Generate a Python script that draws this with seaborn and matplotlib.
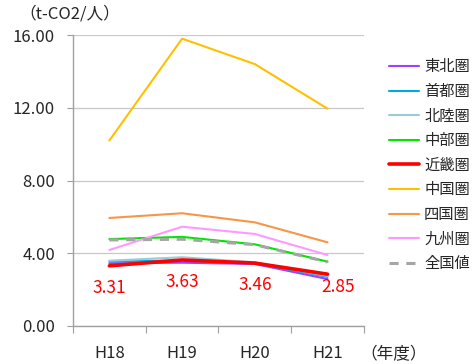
import matplotlib
matplotlib.use("Agg")
import matplotlib.pyplot as plt
import seaborn as sns
import pandas as pd
from matplotlib.lines import Line2D

# data
years = ["H18", "H19", "H20", "H21"]
regions = ["東北圏", "首都圏", "北陸圏", "中部圏", "近畿圏", "中国圏", "四国圏", "九州圏", "全国値"]
tohoku = [3.45, 3.48, 3.41, 2.58]
shuto = [3.55, 3.60, 3.45, 2.70]
hokuriku = [3.59, 3.78, 3.50, 2.75]
chubu = [4.78, 4.90, 4.49, 3.54]
kinki = [3.31, 3.63, 3.46, 2.85]
chugoku = [10.2, 15.8, 14.4, 11.95]
shikoku = [5.94, 6.20, 5.70, 4.60]
kyushu = [4.18, 5.46, 5.06, 3.90]
national = [4.73, 4.77, 4.47, 3.52]

colors = ["#A040FF", "#00A8E8", "#9CCAD8", "#00E600", "#FF0000",
          "#FFC000", "#F79646", "#FF99FF", "#A6A6A6"]

series = [tohoku, shuto, hokuriku, chubu, kinki, chugoku, shikoku, kyushu, national]
rows = []
for name, vals in zip(regions, series):
    for y, v in zip(years, vals):
        rows.append({"year": y, "region": name, "value": v})
df = pd.DataFrame(rows)
df["x"] = df["year"].map({y: i for i, y in enumerate(years)})

sns.set_style("white")
plt.rcParams['font.family'] = ['Noto Sans CJK JP', 'DejaVu Sans']


def line_style(name):
    lw = 2.6 if name == "近畿圏" else (2.2 if name == "全国値" else 1.5)
    ls = (0, (3, 2.5)) if name == "全国値" else "-"
    return lw, ls


fig = plt.figure(figsize=(4.72, 3.64), dpi=100)
ax = fig.add_axes([0.1547, 0.1044, 0.771 - 0.1547, 0.9038 - 0.1044])

for name, c in zip(regions, colors):
    sub = df[df["region"] == name]
    lw, ls = line_style(name)
    sns.lineplot(data=sub, x="x", y="value", color=c, linewidth=lw,
                 linestyle=ls, ax=ax, legend=False)

# value labels for 近畿圏
for i, v in enumerate(kinki):
    if i == len(kinki) - 1:
        ax.text(i + 0.14, v - 0.7, f"{v:.2f}", color="#FF0000", fontsize=12.5,
                ha="center", va="center")
    else:
        ax.text(i, v - 1.2, f"{v:.2f}", color="#FF0000", fontsize=12.5,
                ha="center", va="center")

ax.set_xlim(-0.5, 3.5)
ax.set_ylim(0, 16)
ax.set_yticks([0, 4, 8, 12, 16])
ax.set_yticklabels([f"{v:.2f}" for v in [0, 4, 8, 12, 16]], fontsize=12)
ax.set_xticks([-0.5, 0.5, 1.5, 2.5, 3.5])
ax.set_xticklabels([])
ax.set_xticks(range(4), minor=True)
ax.set_xticklabels(years, minor=True, fontsize=12)
ax.tick_params(axis="x", which="major", length=5, color="#A0A0A0", direction="out", bottom=True)
ax.tick_params(axis="x", which="minor", length=0, pad=14)
ax.tick_params(axis="y", length=4, color="#A0A0A0", direction="out", left=True, pad=9)
ax.set_xlabel("")
ax.set_ylabel("")
ax.grid(axis="y", color="#C8C8C8", linewidth=0.9)
ax.set_axisbelow(True)
for s in ["top", "right"]:
    ax.spines[s].set_visible(False)
for s in ["left", "bottom"]:
    ax.spines[s].set_color("#A0A0A0")
    ax.spines[s].set_linewidth(1.0)

fig.text(0.148, 0.962, "（t-CO2/人）", ha="center", va="center", fontsize=12)
fig.text(0.834, 0.025, "（年度）", ha="center", va="center", fontsize=12)

handles = []
for name, c in zip(regions, colors):
    lw, ls = line_style(name)
    handles.append(Line2D([0], [0], color=c, linewidth=lw, linestyle=ls))
fig.legend(handles, regions, loc="upper left", bbox_to_anchor=(0.824, 0.84),
           frameon=False, fontsize=11, handlelength=2.0, handletextpad=0.3,
           labelspacing=0.5, borderaxespad=0, borderpad=0)

fig.savefig("out.png", dpi=100)
